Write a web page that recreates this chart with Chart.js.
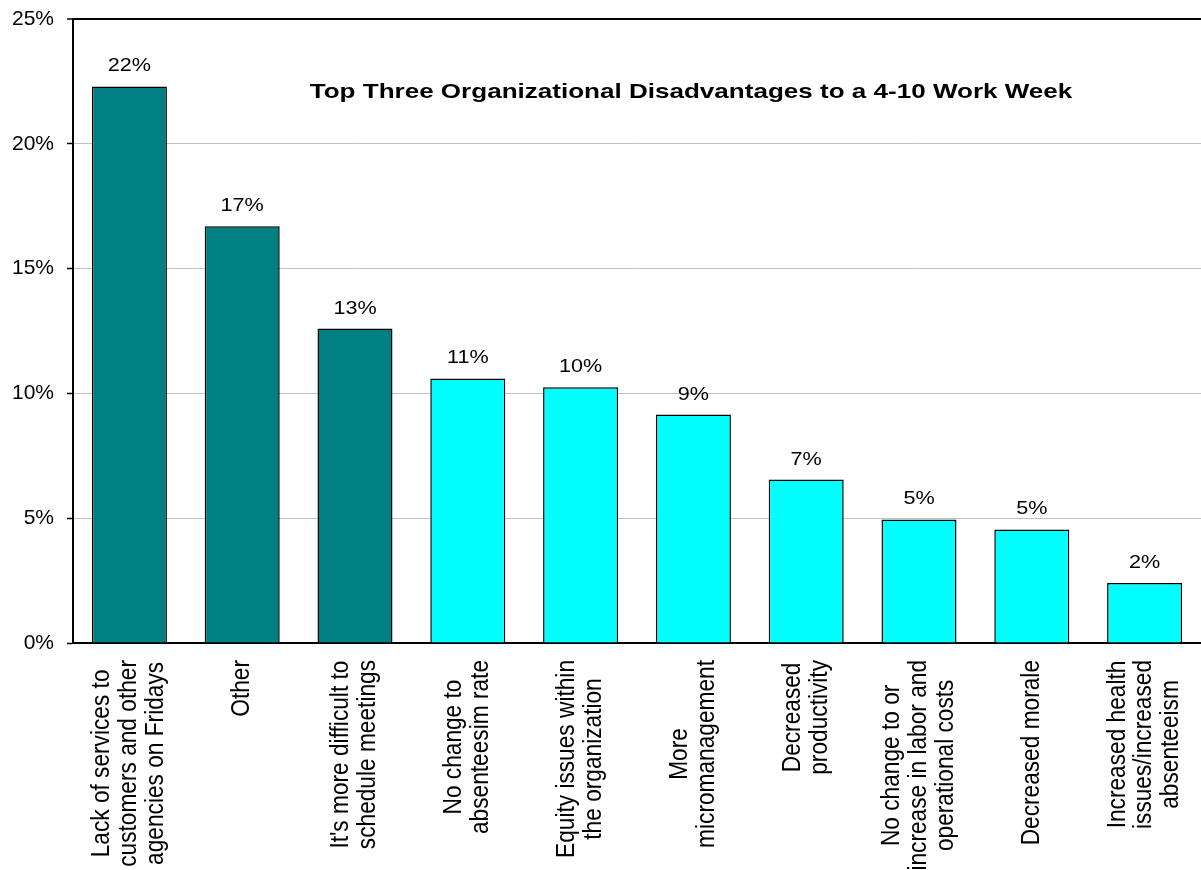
<!DOCTYPE html>
<html lang="en">
<head>
    <meta charset="UTF-8">
    <meta name="viewport" content="width=device-width, initial-scale=1.0">
    <title>Top Three Organizational Disadvantages to a 4-10 Work Week</title>
    <!-- Chart.js CDN -->
    <script src="https://cdn.jsdelivr.net/npm/chart.js"></script>
    <style>
        html, body {
            margin: 0;
            padding: 0;
            background: #fff;
        }
        #wrap {
            position: relative;
            width: 1201px;
            height: 870px;
        }
    </style>
</head>
<body>
    <div id="wrap">
        <canvas id="disadvantagesChart"></canvas>
    </div>

    <script>
        // Daten
        const chartTitle = 'Top Three Organizational Disadvantages to a 4-10 Work Week';
        const categories = [
            ['Lack of services to', 'customers and other', 'agencies on Fridays'],
            ['Other'],
            ["It's more difficult to", 'schedule meetings'],
            ['No change to', 'absenteesim rate'],
            ['Equity issues within', 'the organization'],
            ['More', 'micromanagement'],
            ['Decreased', 'productivity'],
            ['No change to or', 'increase in labor and', 'operational costs'],
            ['Decreased morale'],
            ['Increased health', 'issues/increased', 'absenteeism']
        ];
        const values = [22.3, 16.7, 12.6, 10.6, 10.25, 9.15, 6.55, 4.95, 4.55, 2.4];
        const yTicks = [0, 5, 10, 15, 20, 25];
        const topThreeCount = 3;

        const FONT = '"Liberation Sans", Arial, sans-serif';
        const STRETCH = 1.2; // Schrift im Original leicht in die Breite gezogen

        // Prozentwerte über den Balken
        const valueLabels = {
            id: 'valueLabels',
            afterDatasetsDraw(chart) {
                const ctx = chart.ctx;
                const meta = chart.getDatasetMeta(0);
                ctx.save();
                ctx.fillStyle = '#000';
                ctx.font = '18px ' + FONT;
                ctx.textAlign = 'center';
                ctx.textBaseline = 'alphabetic';
                meta.data.forEach((bar, i) => {
                    ctx.save();
                    ctx.translate(bar.x, bar.y - 15);
                    ctx.scale(STRETCH, 1);
                    ctx.fillText(Math.round(values[i]) + '%', 0, 0);
                    ctx.restore();
                });
                ctx.restore();
            }
        };

        // Titel innerhalb der Zeichenfläche
        const innerTitle = {
            id: 'innerTitle',
            afterDraw(chart) {
                const ctx = chart.ctx;
                const area = chart.chartArea;
                ctx.save();
                ctx.fillStyle = '#000';
                ctx.font = 'bold 21px ' + FONT;
                ctx.textAlign = 'center';
                ctx.textBaseline = 'alphabetic';
                ctx.translate(area.left + 618, area.top + 79);
                ctx.scale(1.24, 1);
                ctx.fillText(chartTitle, 0, 0);
                ctx.restore();
            }
        };

        // Senkrechte Kategorien, Zeilen untereinander zentriert
        const categoryLabels = {
            id: 'categoryLabels',
            afterDraw(chart) {
                const ctx = chart.ctx;
                const xScale = chart.scales.x;
                const axisY = chart.chartArea.bottom;
                const lineH = 24.5;
                ctx.save();
                ctx.fillStyle = '#000';
                ctx.font = '22.7px ' + FONT;
                ctx.textAlign = 'center';
                ctx.textBaseline = 'middle';
                categories.forEach((lines, i) => {
                    const maxW = Math.max(...lines.map(l => ctx.measureText(l).width));
                    const x = xScale.getPixelForValue(i);
                    ctx.save();
                    ctx.translate(x, axisY + 17 + maxW / 2);
                    ctx.rotate(-Math.PI / 2);
                    ctx.scale(1, 1.1);
                    lines.forEach((line, j) => {
                        ctx.fillText(line, 0, (j - (lines.length - 1) / 2) * lineH);
                    });
                    ctx.restore();
                });
                ctx.restore();
            }
        };

        function createChart() {
            const ctx = document.getElementById('disadvantagesChart').getContext('2d');
            new Chart(ctx, {
                type: 'bar',
                data: {
                    labels: categories,
                    datasets: [{
                        data: values,
                        backgroundColor: values.map((v, i) => i < topThreeCount ? '#008080' : '#00FFFF'),
                        borderColor: '#000',
                        borderWidth: 1.5,
                        barPercentage: 0.665,
                        categoryPercentage: 1.0
                    }]
                },
                options: {
                    responsive: true,
                    maintainAspectRatio: false,
                    animation: false,
                    layout: {
                        padding: { top: 19, right: -9, bottom: 0, left: 0 }
                    },
                    plugins: {
                        legend: { display: false },
                        tooltip: { enabled: false }
                    },
                    scales: {
                        x: {
                            grid: { display: false },
                            border: { color: '#000', width: 2 },
                            ticks: { display: false },
                            afterFit(scale) {
                                scale.height = 227;
                            }
                        },
                        y: {
                            min: 0,
                            max: 25,
                            afterBuildTicks(scale) {
                                scale.ticks = yTicks.map(v => ({ value: v }));
                            },
                            grid: {
                                color: c => c.tick && c.tick.value === 25 ? '#000' : '#c0c0c0',
                                lineWidth: c => c.tick && c.tick.value === 25 ? 2 : 1,
                                tickColor: '#000',
                                tickLength: 6,
                                tickWidth: 1.5
                            },
                            border: { color: '#000', width: 2 },
                            ticks: {
                                color: '#000',
                                padding: 13,
                                font: { family: FONT, size: 21 },
                                callback: v => v + '%'
                            },
                            afterFit(scale) {
                                scale.width = 73;
                                scale.paddingTop = 0;
                                scale.paddingBottom = 0;
                            }
                        }
                    }
                },
                plugins: [valueLabels, innerTitle, categoryLabels]
            });
        }

        createChart();
    </script>
</body>
</html>
